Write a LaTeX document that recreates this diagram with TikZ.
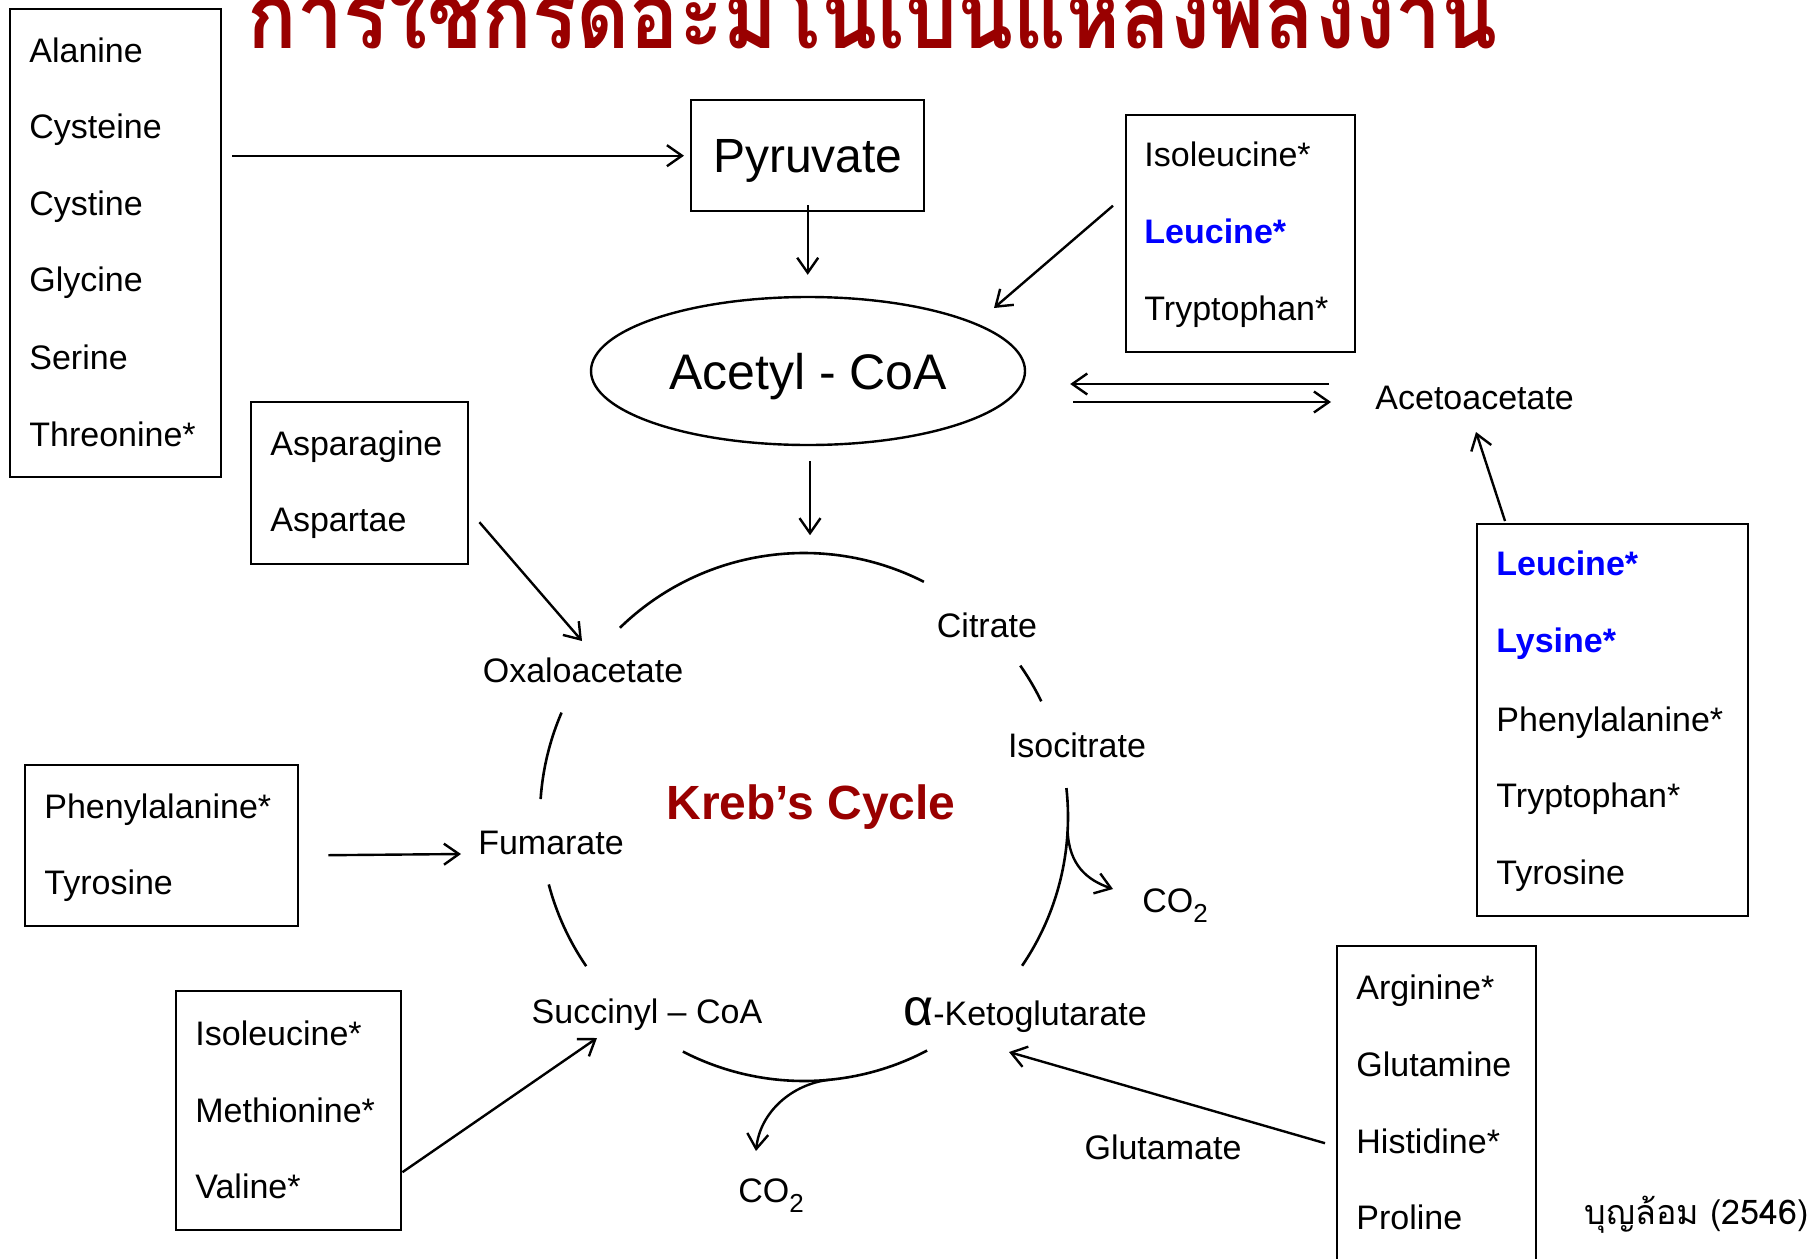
\documentclass[tikz,border=0pt]{standalone}
\usepackage{fontspec}
\setmainfont{Liberation Sans}
\newfontfamily\thaifont[Script=Thai]{Loma}
\usetikzlibrary{arrows.meta,shapes.geometric}
\definecolor{tred}{RGB}{153,0,0}
\definecolor{tblue}{RGB}{0,0,255}
\begin{document}
\begin{tikzpicture}[x=0.5pt,y=-0.5pt,
  box/.style={draw,line width=1.2pt,rectangle,inner sep=0pt,anchor=north west},
  lbl/.style={inner sep=0pt,anchor=base west,font=\fontsize{17}{20}\selectfont},
  hl/.style={lbl,text=tblue,font=\fontsize{17}{20}\selectfont\bfseries},
  ctext/.style={inner sep=0pt,text depth=0pt,font=\fontsize{17}{20}\selectfont},
  arr/.style={line width=1.2pt,-{Straight Barb[length=7.5pt,width=10.5pt]}},
  cyc/.style={line width=1.3pt}]
\path[use as bounding box] (0,0) rectangle (1818,1258);
\clip (0,0) rectangle (1818,1258);

% title
\node[anchor=base west,inner sep=0pt,text=tred] (title) at (247,48)
  {\resizebox{625pt}{\height}{\thaifont\bfseries\fontsize{46}{50}\selectfont การใช้กรดอะมิโนเป็นแหล่งพลังงาน}};

% box A
\node[box,minimum width=105.5pt,minimum height=234pt] (A) at (9,8) {};
\node[lbl] (a1) at (29,62) {Alanine};
\node[lbl] (a2) at (29,138) {Cysteine};
\node[lbl] (a3) at (29,215) {Cystine};
\node[lbl] (a4) at (29,291) {Glycine};
\node[lbl] (a5) at (29,369) {Serine};
\node[lbl] (a6) at (29,446) {Threonine*};

% Pyruvate
\node[box,minimum width=116.5pt,minimum height=55.5pt,text depth=0pt,font=\fontsize{24}{28}\selectfont] (P) at (690,99) {Pyruvate};

% Acetyl-CoA
\node[ellipse,draw,line width=1.2pt,minimum width=217pt,minimum height=74pt,inner sep=0pt,text depth=0pt,font=\fontsize{25}{28}\selectfont] (E) at (808,371) {Acetyl - CoA};

% box B
\node[box,minimum width=114.5pt,minimum height=118.5pt] (B) at (1125,114) {};
\node[lbl] (b1) at (1144,166) {Isoleucine*};
\node[hl] (b2) at (1144,243) {Leucine*};
\node[lbl] (b3) at (1144,320) {Tryptophan*};

% Acetoacetate
\node[ctext,anchor=west] (K) at (1375,398) {Acetoacetate};

% box C
\node[box,minimum width=135.5pt,minimum height=196pt] (C) at (1476,523) {};
\node[hl] (c1) at (1496,575) {Leucine*};
\node[hl] (c2) at (1496,652) {Lysine*};
\node[lbl] (c3) at (1496,731) {Phenylalanine*};
\node[lbl] (c4) at (1496,807) {Tryptophan*};
\node[lbl] (c5) at (1496,884) {Tyrosine};

% box D
\node[box,minimum width=108.5pt,minimum height=81pt] (D) at (250,401) {};
\node[lbl] (d1) at (270,455) {Asparagine};
\node[lbl] (d2) at (270,531) {Aspartae};

% box Q
\node[box,minimum width=136.5pt,minimum height=80.5pt] (Q) at (24,764) {};
\node[lbl] (q1) at (44,818) {Phenylalanine*};
\node[lbl] (q2) at (44,894) {Tyrosine};

% box F
\node[box,minimum width=112.5pt,minimum height=119.5pt] (F) at (175,990) {};
\node[lbl] (f1) at (195,1045) {Isoleucine*};
\node[lbl] (f2) at (195,1122) {Methionine*};
\node[lbl] (f3) at (195,1198) {Valine*};

% box G
\node[box,minimum width=99.5pt,minimum height=170pt] (G) at (1336,945) {};
\node[lbl] (g1) at (1356,999) {Arginine*};
\node[lbl] (g2) at (1356,1076) {Glutamine};
\node[lbl] (g3) at (1356,1153) {Histidine*};
\node[lbl] (g4) at (1356,1229) {Proline};

% cycle texts
\node[ctext] (Ci) at (987,625) {Citrate};
\node[ctext] (Is) at (1077,745) {Isocitrate};
\node[ctext] (O) at (583,670) {Oxaloacetate};
\node[ctext] (Fu) at (551,843) {Fumarate};
\node[ctext] (S) at (647,1011) {Succinyl – CoA};
\node[ctext] (AK) at (1025,1011) {{\fontsize{26}{28}\selectfont α}-Ketoglutarate};
\node[ctext] (Gl) at (1163,1147) {Glutamate};
\node[ctext] (CO1) at (1175,901) {CO\raisebox{-5pt}{\fontsize{13}{14}\selectfont 2}};
\node[ctext] (CO2) at (771,1191) {CO\raisebox{-5pt}{\fontsize{13}{14}\selectfont 2}};
\node[inner sep=0pt,text depth=0pt,text=tred,font=\fontsize{24}{28}\selectfont\bfseries] (KC) at (811,802) {Kreb’s Cycle};

% credit
\node[anchor=east,inner sep=0pt,font=\thaifont\fontsize{17}{20}\selectfont] (cr) at (1809,1215) {บุญล้อม (2546)};

% cycle arcs
\coordinate (cc) at (804,817);
\draw[cyc] ([shift={(225.8:264)}]cc) arc[start angle=225.8,end angle=297,radius=264];
\draw[cyc] ([shift={(325:264)}]cc) arc[start angle=325,end angle=334,radius=264];
\draw[cyc] ([shift={(353.7:264)}]cc) arc[start angle=353.7,end angle=394.3,radius=264];
\draw[cyc] ([shift={(62.2:264)}]cc) arc[start angle=62.2,end angle=117.3,radius=264];
\draw[cyc] ([shift={(145.6:264)}]cc) arc[start angle=145.6,end angle=165.2,radius=264];
\draw[cyc] ([shift={(183.9:264)}]cc) arc[start angle=183.9,end angle=203.3,radius=264];

% CO2 branches
\coordinate (br1) at ([shift={(3:264)}]cc);
\coordinate (br1e) at (1113,889);
\draw[arr] (br1) .. controls (1069,865) and (1087,880) .. (br1e);
\coordinate (br2) at ([shift={(84.5:264)}]cc);
\coordinate (br2e) at (756,1151);
\draw[arr] (br2) .. controls (792,1084) and (760,1112) .. (br2e);

% arrows
\draw[arr] ([xshift=5pt]A.east |- P.west) -- ([xshift=-3pt]P.west);
\draw[arr] ([yshift=3.5pt]P.south) -- ([yshift=10.5pt]P.south |- E.north);
\draw[arr] ([shift={(-12,-28)}]B.west) -- ([shift={(186,-63)}]E.center);
\draw[arr] ([shift={(-46,-14)}]K.west) -- ([shift={(44,13)}]E.east);
\draw[arr] ([shift={(47,31)}]E.east) -- ([shift={(-44,4)}]K.west);
\draw[arr] ([shift={(29,-2)}]C.north west) -- ([shift={(101,34)}]K.west);
\draw[arr] ([shift={(10,39)}]D.east) -- ([shift={(-1,-29)}]O.center);
\draw[arr] ([shift={(2,15)}]E.south) -- ([shift={(2,89)}]E.south);
\draw[arr] ([shift={(29,9.5)}]Q.east) -- ([shift={(-90,11)}]Fu.center);
\draw[arr] ([shift={(0,61.5)}]F.east) -- ([shift={(-50,27)}]S.center);
\draw[arr] ([shift={(-11,27)}]G.west) -- ([shift={(-16,41)}]AK.center);
\end{tikzpicture}
\end{document}
